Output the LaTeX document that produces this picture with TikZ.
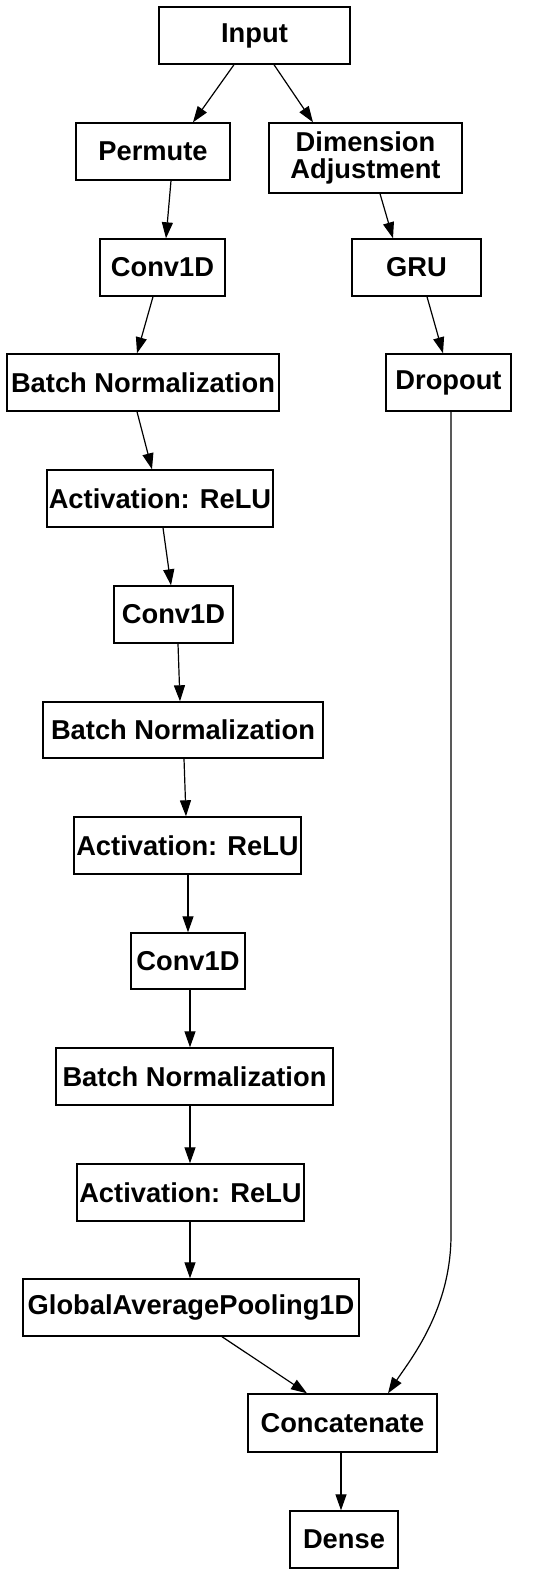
\documentclass[tikz,border=0pt]{standalone}
\usepackage{fontspec}
\setmainfont{Liberation Sans}
\usetikzlibrary{arrows.meta}
\begin{document}
\begin{tikzpicture}[x=1pt,y=-1pt,
  layer/.style={draw=black, line width=1.4pt, rectangle, inner sep=0pt, align=center,
    font=\fontsize{27.3}{27}\selectfont\bfseries},
  conn/.style={line width=1.2pt, -{Triangle[length=16pt,width=11pt]}}]
\useasboundingbox (0,0) rectangle (556,1574);
\fill[white] (0,0) rectangle (556,1574);
\node[layer, minimum width=191pt, minimum height=57pt] (in) at (254.5,35.5) {Input};
\node[layer, minimum width=154pt, minimum height=57pt] (perm) at (153,151.5) {Permute};
\node[layer, minimum width=193pt, minimum height=70pt] (dim) at (365.5,158) {Dimension\\Adjustment};
\node[layer, minimum width=125pt, minimum height=57pt] (c1) at (162.5,267.5) {Conv1D};
\node[layer, minimum width=129pt, minimum height=57pt] (gru) at (416.5,267.5) {GRU};
\node[layer, minimum width=272pt, minimum height=57pt] (bn1) at (143,382.5) {Batch Normalization};
\node[layer, minimum width=125pt, minimum height=57pt] (drop) at (448.5,382.5) {Dropout};
\node[layer, minimum width=226pt, minimum height=57pt] (a1) at (160,498.5) {Activation: ReLU};
\node[layer, minimum width=119pt, minimum height=57pt] (c2) at (173.5,614.5) {Conv1D};
\node[layer, minimum width=280pt, minimum height=56pt] (bn2) at (183,730) {Batch Normalization};
\node[layer, minimum width=227pt, minimum height=57pt] (a2) at (187.5,845.5) {Activation: ReLU};
\node[layer, minimum width=114pt, minimum height=56pt] (c3) at (188,961) {Conv1D};
\node[layer, minimum width=277pt, minimum height=57pt] (bn3) at (194.5,1076.5) {Batch Normalization};
\node[layer, minimum width=227pt, minimum height=57pt] (a3) at (190.5,1192.5) {Activation: ReLU};
\node[layer, minimum width=336pt, minimum height=57pt] (gap) at (191,1307.5) {GlobalAveragePooling1D};
\node[layer, minimum width=189pt, minimum height=58pt] (cat) at (342.5,1423) {Concatenate};
\node[layer, minimum width=108pt, minimum height=57pt] (dense) at (344,1539.5) {Dense};
\coordinate (bend) at (451,1235);
\draw[conn] ([xshift=-20.5pt]in.south) -- ([xshift=40pt]perm.north);
\draw[conn] ([xshift=19.5pt]in.south) -- ([xshift=-52.5pt]dim.north);
\draw[conn] ([xshift=18pt]perm.south) -- ([xshift=3.5pt]c1.north);
\draw[conn] ([xshift=14.5pt]dim.south) -- ([xshift=-23.5pt]gru.north);
\draw[conn] ([xshift=-9.5pt]c1.south) -- ([xshift=-6pt]bn1.north);
\draw[conn] ([xshift=10.5pt]gru.south) -- ([xshift=-5.5pt]drop.north);
\draw[conn] ([xshift=-6pt]bn1.south) -- ([xshift=-8pt]a1.north);
\draw[conn] ([xshift=3pt]a1.south) -- ([xshift=-2.5pt]c2.north);
\draw[conn] ([xshift=4.5pt]c2.south) -- ([xshift=-3pt]bn2.north);
\draw[conn] ([xshift=1pt]bn2.south) -- ([xshift=-1.5pt]a2.north);
\draw[conn] ([xshift=0.5pt]a2.south) -- (c3.north);
\draw[conn] ([xshift=2pt]c3.south) -- ([xshift=-4.5pt]bn3.north);
\draw[conn] ([xshift=-4.5pt]bn3.south) -- ([xshift=-0.5pt]a3.north);
\draw[conn] ([xshift=-0.5pt]a3.south) -- ([xshift=-1pt]gap.north);
\draw[conn] ([xshift=31pt]gap.south) -- ([xshift=-35.5pt]cat.north);
\draw[conn] ([xshift=2.5pt]drop.south) -- (bend) .. controls (451,1310) and (410,1360) .. ([xshift=45.5pt]cat.north);
\draw[conn] ([xshift=-1.5pt]cat.south) -- ([xshift=-3pt]dense.north);
\end{tikzpicture}
\end{document}
